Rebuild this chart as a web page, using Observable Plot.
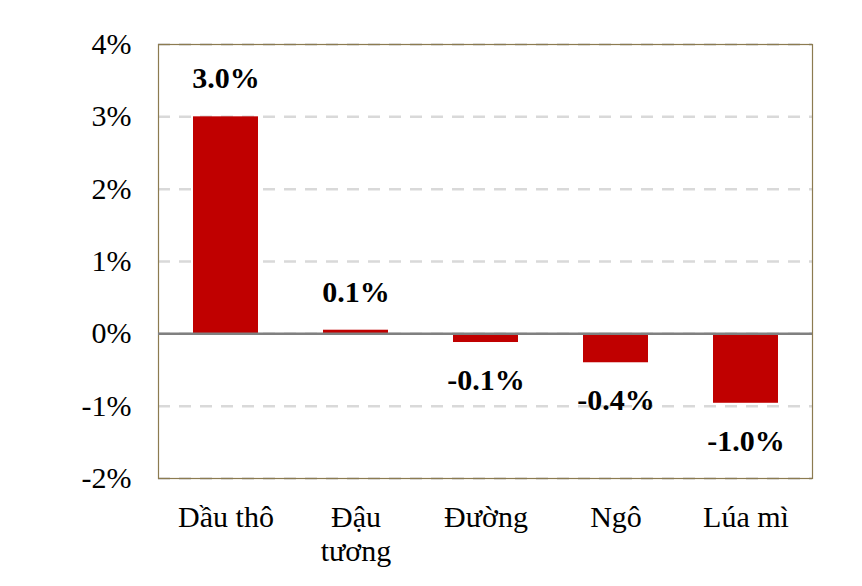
<!DOCTYPE html>
<html>
<head>
<meta charset="utf-8">
<script src="https://cdn.jsdelivr.net/npm/d3@7"></script>
<script src="https://cdn.jsdelivr.net/npm/@observablehq/plot@0.6"></script>
<style>
  body { margin: 0; background: #fff; }
</style>
</head>
<body>
<div id="chart"></div>
<script>
const categories = ["Dầu thô", "Đậu\ntương", "Đường", "Ngô", "Lúa mì"];
const values = [3.0, 0.05, -0.12, -0.4, -0.96];
const valueLabels = ["3.0%", "0.1%", "-0.1%", "-0.4%", "-1.0%"];
const yTicks = [-2, -1, 0, 1, 2, 3, 4];

const data = categories.map((c, i) => ({cat: c, v: values[i], label: valueLabels[i]}));
const pos = data.filter(d => d.v >= 0);
const neg = data.filter(d => d.v < 0);

const font = "Times New Roman, Liberation Serif, DejaVu Serif, serif";
const fs = 30;

const chart = Plot.plot({
  width: 862,
  height: 586,
  marginLeft: 158,
  marginRight: 50,
  marginTop: 44,
  marginBottom: 108,
  style: {fontFamily: font, fontSize: "30px", color: "#000", background: "#fff"},
  x: {domain: categories, paddingInner: 0.5, paddingOuter: 0.25, label: null},
  y: {domain: [-2, 4], label: null},
  marks: [
    Plot.ruleY(yTicks, {stroke: "#d9d9d9", strokeWidth: 2.5, strokeDasharray: "12,9"}),
    Plot.frame({stroke: "#8c7b50", strokeWidth: 1.2}),
    Plot.barY(data, {x: "cat", y: "v", fill: "#c00000"}),
    Plot.ruleY([0], {stroke: "#808080", strokeWidth: 2.5}),
    Plot.text(pos, {x: "cat", y: "v", text: "label", dy: -38, fontWeight: "bold", fontSize: fs, fontFamily: font, fill: "#000"}),
    Plot.text(neg, {x: "cat", y: "v", text: "label", dy: 38, fontWeight: "bold", fontSize: fs, fontFamily: font, fill: "#000"}),
    Plot.axisY({ticks: yTicks, tickFormat: d => d + "%", tickSize: 0, tickPadding: 27, fontSize: fs, fontFamily: font, label: null}),
    Plot.axisX({tickSize: 0, tickPadding: 25, fontSize: fs, fontFamily: font, lineHeight: 1.12, label: null, textAnchor: "middle"})
  ]
});
document.getElementById("chart").appendChild(chart);
</script>
</body>
</html>
